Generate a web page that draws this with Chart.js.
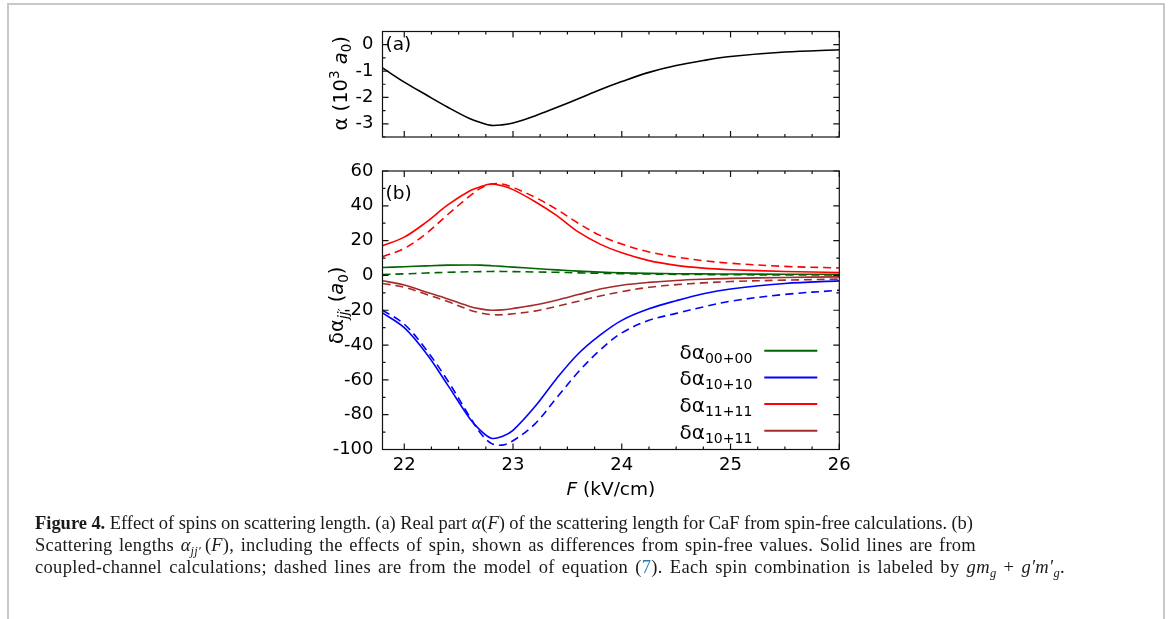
<!DOCTYPE html>
<html><head><meta charset="utf-8">
<script src="https://cdn.jsdelivr.net/npm/chart.js@4.4.1/dist/chart.umd.min.js"></script>
<style>
html,body{margin:0;padding:0;background:#fff;width:1176px;height:619px;overflow:hidden;}
#box{position:absolute;left:7px;top:3px;width:1154px;height:700px;border:2px solid #c8c8c8;}
canvas{position:absolute;left:0;top:0;}
.ln{position:absolute;left:35px;font-family:"Liberation Serif","Times New Roman",serif;font-size:18.5px;line-height:22px;color:#1a1a1a;white-space:nowrap;}
.ln i{font-style:italic;}
.ln sub{font-size:12.5px;line-height:0;vertical-align:-4px;}
.ref{color:#2a7ab8;}
</style></head><body>
<div id="box"></div>
<canvas id="ca" width="1176" height="619"></canvas>
<canvas id="cb" width="1176" height="619"></canvas>
<div class="ln" data-w="938" style="top:512px"><b>Figure 4.</b> Effect of spins on scattering length. (a) Real part <i>α</i>(<i>F</i>) of the scattering length for CaF from spin-free calculations. (b)</div>
<div class="ln" data-w="941" style="top:534px">Scattering lengths <i>α</i><sub><i>jj′</i></sub>&#8201;(<i>F</i>), including the effects of spin, shown as differences from spin-free values. Solid lines are from</div>
<div class="ln" data-w="1030" style="top:556px">coupled-channel calculations; dashed lines are from the model of equation (<span class="ref">7</span>). Each spin combination is labeled by <i>gm</i><sub><i>g</i></sub> + <i>g′m′</i><sub><i>g</i></sub>.</div>
<script>
// ---------- data ----------
const F = [21.8, 22.0, 22.2, 22.4, 22.6, 22.7, 22.8, 22.9, 23.0, 23.2, 23.4, 23.6, 23.8, 24.0, 24.25, 24.5, 24.75, 25.0, 25.5, 26.0];
const alphaA = [-0.88, -1.42, -1.90, -2.37, -2.80, -2.95, -3.06, -3.04, -2.97, -2.70, -2.38, -2.05, -1.71, -1.40, -1.05, -0.79, -0.60, -0.45, -0.28, -0.19];

const d0000Solid = [4.6, 5.0, 5.5, 5.9, 6.0, 5.9, 5.6, 5.2, 4.8, 4.0, 3.2, 2.5, 1.9, 1.5, 1.2, 1.0, 0.9, 0.8, 0.7, 0.6];
const d0000Dash  = [0.5, 0.9, 1.4, 1.8, 2.1, 2.2, 2.3, 2.3, 2.2, 2.0, 1.8, 1.5, 1.2, 1.0, 0.8, 0.6, 0.5, 0.4, 0.3, 0.2];
const d1010Solid = [-21.5, -30, -44.6, -63, -82, -89, -93.5, -92.5, -89, -75.5, -59.3, -45, -34.3, -25.8, -19.2, -14.5, -10.5, -7.8, -4.6, -3.1];
const d1010Dash  = [-20, -28, -42.5, -60.5, -81, -90.5, -96.5, -97.5, -95, -85.4, -70.4, -55.5, -42.9, -33, -25.8, -21.8, -18.1, -14.8, -10.9, -8.5];
const d1111Solid = [17.1, 22, 30.5, 40.5, 48.5, 51, 52.5, 51.5, 49.3, 42.5, 34.5, 25, 18, 13, 8.5, 5.8, 4.2, 3.3, 2.3, 1.7];
const d1111Dash  = [10.8, 15.5, 24.0, 35.0, 45.5, 50, 52.5, 52.5, 50.5, 45, 38, 30, 23, 18, 13.5, 10.6, 8.5, 7.0, 5.2, 4.3];
const d1011Solid = [-3.1, -5.5, -9.5, -13.5, -17.8, -19.2, -20.0, -19.8, -19.0, -17.0, -14.2, -11.0, -7.8, -5.6, -4.0, -2.9, -2.2, -1.7, -1.2, -0.8];
const d1011Dash  = [-4.6, -6.8, -10.8, -15.0, -19.8, -21.5, -22.5, -22.6, -22.0, -20.5, -17.8, -14.8, -11.8, -9.3, -6.8, -5.3, -4.3, -3.5, -2.7, -2.1];

const xTicks = [22, 23, 24, 25, 26];
const yTicksA = [-3, -2, -1, 0];
const yTicksB = [-100, -80, -60, -40, -20, 0, 20, 40, 60];
const legendSubs = ['00+00', '10+10', '11+11', '10+11'];
const seriesColors = ['#006400', '#0000ff', '#ff0000', '#a52a2a'];

// ---------- caption fitting ----------
function fitCaption(){
  document.querySelectorAll('.ln').forEach(el=>{
    el.style.letterSpacing='0px'; el.style.wordSpacing='0px';
    const w = el.getBoundingClientRect().width;
    const target = +el.dataset.w;
    const txt = el.textContent;
    const nChars = txt.length, nSp = (txt.match(/ /g)||[]).length;
    const extra = target - w;
    el.style.letterSpacing = (0.5*extra/nChars).toFixed(3)+'px';
    el.style.wordSpacing = (0.5*extra/Math.max(1,nSp)).toFixed(3)+'px';
  });
}
fitCaption();
if(document.fonts && document.fonts.ready) document.fonts.ready.then(fitCaption);

// ---------- helpers ----------
const FAM = '"DejaVu Sans", sans-serif';
const pts = ys => F.map((x, i) => ({x: x, y: ys[i]}));
function richWidth(ctx, segs){ let w=0; for(const s of segs){ctx.font=s.font; w+=ctx.measureText(s.t).width;} return w; }
function drawRich(ctx, segs, x, y, align){
  const w = richWidth(ctx, segs);
  let cx = align==='center' ? x - w/2 : align==='right' ? x - w : x;
  ctx.textBaseline='alphabetic'; ctx.textAlign='left';
  for(const s of segs){ ctx.font=s.font; ctx.fillText(s.t, cx, y + (s.dy||0)); cx += ctx.measureText(s.t).width; }
}
const N = sz => `${sz}px ${FAM}`;
const I = sz => `italic ${sz}px ${FAM}`;

function framePlugin(yMinor, xMinor, label, extra){
  return {
    id:'frame'+label,
    afterDatasetsDraw(chart){
      const ctx=chart.ctx, a=chart.chartArea, xs=chart.scales.x, ys=chart.scales.y;
      ctx.save();
      ctx.strokeStyle='#111'; ctx.lineWidth=1.2;
      ctx.strokeRect(a.left, a.top, a.right-a.left, a.bottom-a.top);
      ctx.beginPath();
      const tk=(len, v, axis)=>{
        if(axis==='x'){ const p=xs.getPixelForValue(v); ctx.moveTo(p,a.bottom); ctx.lineTo(p,a.bottom-len); ctx.moveTo(p,a.top); ctx.lineTo(p,a.top+len); }
        else { const p=ys.getPixelForValue(v); ctx.moveTo(a.left,p); ctx.lineTo(a.left+len,p); ctx.moveTo(a.right,p); ctx.lineTo(a.right-len,p); }
      };
      xs.ticks.forEach(t=>tk(6,t.value,'x'));
      ys.ticks.forEach(t=>tk(6,t.value,'y'));
      for(let v=Math.ceil(xs.min/xMinor-1e-9)*xMinor; v<=xs.max+1e-9; v+=xMinor) tk(3,v,'x');
      for(let v=Math.ceil(ys.min/yMinor-1e-9)*yMinor; v<=ys.max+1e-9; v+=yMinor) tk(3,v,'y');
      ctx.stroke();
      ctx.fillStyle='#000';
      drawRich(ctx,[{t:label,font:N(18.5)}], a.left+3, a.top+ (label==='(a)'?18.5:28), 'left');
      if(extra) extra(chart, ctx, a);
      ctx.restore();
    }
  };
}

const LEFT=382.5, RIGHT=839.3, YW=60;
function lineDS(ys, color, dashed){
  return {data: pts(ys), borderColor: color, borderWidth: 1.6, borderDash: dashed?[8,5]:[], pointRadius:0, fill:false, tension:0.35};
}
function baseScales(ymin, ymax, yt, showX){
  return {
    x:{type:'linear', min:21.8, max:26, afterBuildTicks:s=>{s.ticks=xTicks.map(v=>({value:v}));},
       ticks:{display:showX, font:{family:'DejaVu Sans', size:18}, color:'#000', padding:5, maxRotation:0, callback:v=>String(v)},
       grid:{display:false, drawTicks:false}, border:{display:false},
       afterFit:s=>{s.height = showX?40:0;}},
    y:{type:'linear', min:ymin, max:ymax, afterBuildTicks:s=>{s.ticks=yt.map(v=>({value:v}));},
       ticks:{font:{family:'DejaVu Sans', size:18}, color:'#000', padding:9, callback:v=>String(v)},
       grid:{display:false, drawTicks:false}, border:{display:false},
       afterFit:s=>{s.width=YW;}}
  };
}
const common = {responsive:false, animation:false, plugins:{legend:{display:false}, tooltip:{enabled:false}}, events:[]};

// ---------- panel (a) ----------
new Chart(document.getElementById('ca'), {
  type:'line',
  data:{datasets:[lineDS(alphaA,'#000',false)]},
  options:Object.assign({}, common, {
    layout:{padding:{left:LEFT-YW, right:1176-RIGHT, top:31.5, bottom:619-137}},
    scales: baseScales(-3.5, 0.5, yTicksA, false)
  }),
  plugins:[framePlugin(0.5, 0.25, '(a)', (chart, ctx, a)=>{
    ctx.save(); ctx.translate(346.5, (a.top+a.bottom)/2 - 1); ctx.rotate(-Math.PI/2);
    drawRich(ctx,[{t:'α (10',font:N(19.5)},{t:'3',font:N(13.5),dy:-7.5},{t:' ',font:N(19.5)},{t:'a',font:I(19.5)},{t:'0',font:N(13.5),dy:4},{t:')',font:N(19.5)}],0,0,'center');
    ctx.restore();
  })]
});

// ---------- panel (b) ----------
const solids=[d0000Solid,d1010Solid,d1111Solid,d1011Solid];
const dashes=[d0000Dash,d1010Dash,d1111Dash,d1011Dash];
const dsB=[];
dashes.forEach((d,i)=>dsB.push(lineDS(d,seriesColors[i],true)));
solids.forEach((d,i)=>{const o=lineDS(d,seriesColors[i],false); o.label='δα'+legendSubs[i]; o.isSolid=true; dsB.push(o);});

new Chart(document.getElementById('cb'), {
  type:'line',
  data:{datasets:dsB},
  options:Object.assign({}, common, {
    layout:{padding:{left:LEFT-YW, right:1176-RIGHT, top:171, bottom:619-449.5-40}},
    scales: baseScales(-100, 60, yTicksB, true)
  }),
  plugins:[framePlugin(10, 0.25, '(b)', (chart, ctx, a)=>{
    // y title
    ctx.save(); ctx.translate(343, (a.top+a.bottom)/2 - 5); ctx.rotate(-Math.PI/2);
    drawRich(ctx,[{t:'δα',font:N(19.5)},{t:'jj′',font:I(13.5),dy:4.5},{t:' (',font:N(19.5)},{t:'a',font:I(19.5)},{t:'0',font:N(13.5),dy:4.5},{t:')',font:N(19.5)}],0,0,'center');
    ctx.restore();
    // x title
    drawRich(ctx,[{t:'F',font:I(18.5)},{t:' (kV/cm)',font:N(18.5)}],(a.left+a.right)/2, 495,'center');
    // legend
    const sol = chart.data.datasets.filter(d=>d.isSolid);
    sol.forEach((d,i)=>{
      const yl = 350.7 + i*26.7;
      ctx.strokeStyle=d.borderColor; ctx.lineWidth=2; ctx.setLineDash([]);
      ctx.beginPath(); ctx.moveTo(a.right-75, yl); ctx.lineTo(a.right-22, yl); ctx.stroke();
      ctx.fillStyle='#000';
      drawRich(ctx,[{t:'δα',font:N(20)},{t:legendSubs[i],font:N(14),dy:4}], a.right-87, yl+8, 'right');
    });
  })]
});
</script>
</body></html>
